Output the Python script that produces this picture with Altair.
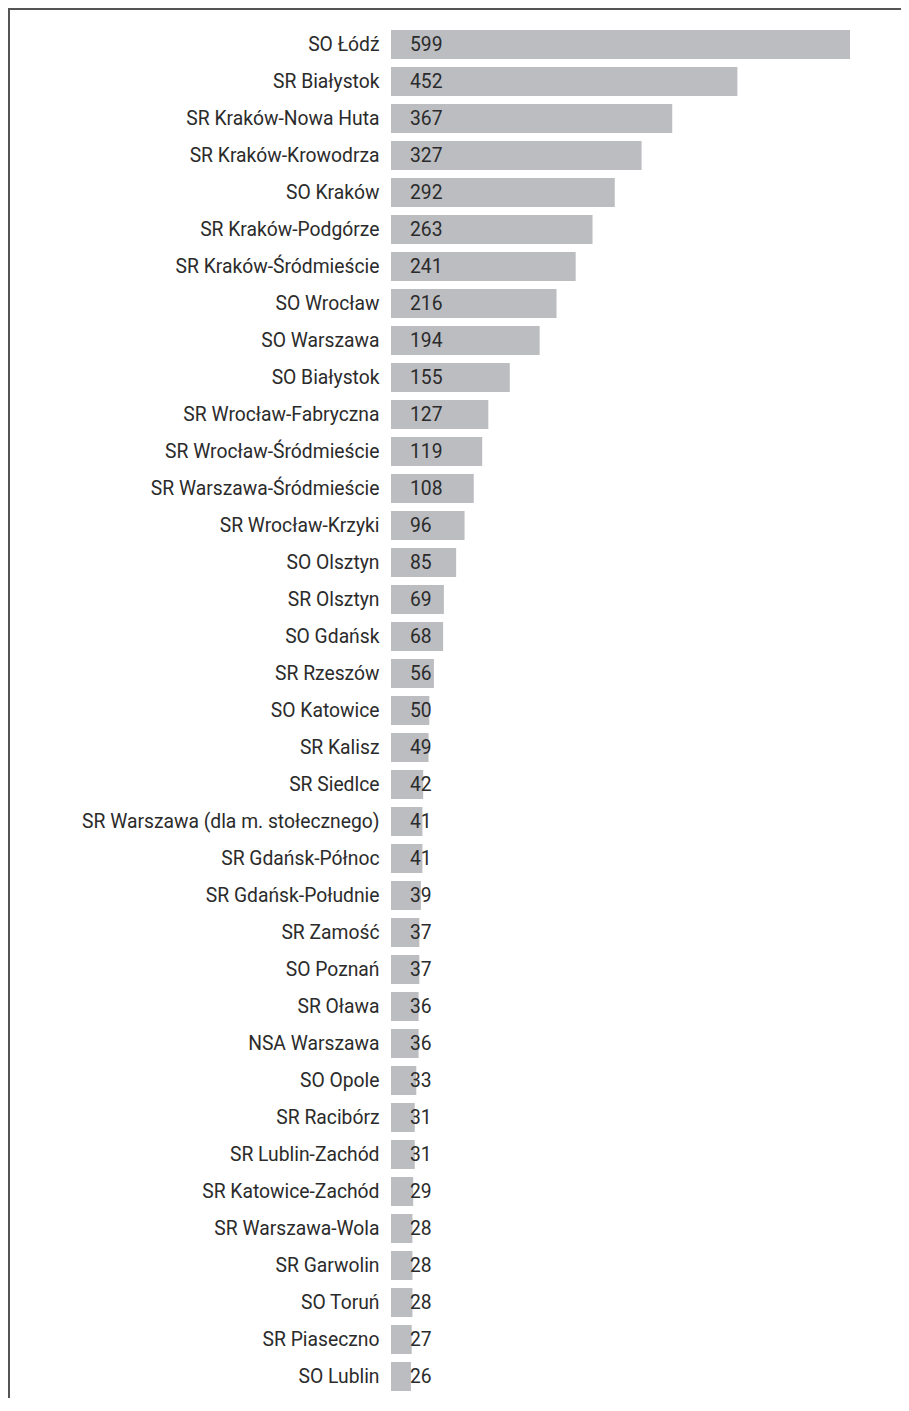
import altair as alt
import pandas as pd

names = [
    "SO Łódź", "SR Białystok", "SR Kraków-Nowa Huta", "SR Kraków-Krowodrza", "SO Kraków",
    "SR Kraków-Podgórze", "SR Kraków-Śródmieście", "SO Wrocław", "SO Warszawa", "SO Białystok",
    "SR Wrocław-Fabryczna", "SR Wrocław-Śródmieście", "SR Warszawa-Śródmieście", "SR Wrocław-Krzyki",
    "SO Olsztyn", "SR Olsztyn", "SO Gdańsk", "SR Rzeszów", "SO Katowice", "SR Kalisz", "SR Siedlce",
    "SR Warszawa (dla m. stołecznego)", "SR Gdańsk-Północ", "SR Gdańsk-Południe", "SR Zamość",
    "SO Poznań", "SR Oława", "NSA Warszawa", "SO Opole", "SR Racibórz", "SR Lublin-Zachód",
    "SR Katowice-Zachód", "SR Warszawa-Wola", "SR Garwolin", "SO Toruń", "SR Piaseczno", "SO Lublin",
]
values = [599, 452, 367, 327, 292, 263, 241, 216, 194, 155, 127, 119, 108, 96, 85, 69, 68, 56, 50,
          49, 42, 41, 41, 39, 37, 37, 36, 36, 33, 31, 31, 29, 28, 28, 28, 27, 26]

df = pd.DataFrame({"name": names, "value": values})

FONT = "Roboto"
FS = 19.3
BAR = "#bcbdc1"
TXT = "#2b2b2b"

y = alt.Y("name:N", sort=names, title=None,
          scale=alt.Scale(paddingInner=0.216, paddingOuter=0.108),
          axis=alt.Axis(ticks=False, domain=False, labelPadding=12, labelFont=FONT,
                        labelFontSize=FS, labelColor=TXT, labelLimit=400, grid=False))
x = alt.X("value:Q", title=None, scale=alt.Scale(domain=[0, 599], nice=False),
          axis=None)

bars = alt.Chart(df).mark_bar(color=BAR).encode(x=x, y=y)
labels = alt.Chart(df).mark_text(align="left", baseline="middle", dx=19, font=FONT,
                                 fontSize=FS, color=TXT).encode(
    x=alt.datum(0), y=alt.Y("name:N", sort=names), text="value:Q")

frame_df = pd.DataFrame({"k": [0]})
top_line = alt.Chart(frame_df).mark_rule(color="#555555", strokeWidth=2).encode(
    x=alt.value(-383), x2=alt.value(510), y=alt.value(-17))
left_line = alt.Chart(frame_df).mark_rule(color="#555555", strokeWidth=2).encode(
    x=alt.value(-382), y=alt.value(-18), y2=alt.value(1372))

chart = alt.layer(bars, labels, top_line, left_line).properties(
    width=459, height=1369,
    background="white",
    autosize=alt.AutoSizeParams(type="none"),
    padding={"left": 383, "top": 18, "right": 51, "bottom": 3},
).configure_view(strokeWidth=0, stroke=None)

chart.save("out.html", embed_options={"renderer": "svg", "actions": False})
